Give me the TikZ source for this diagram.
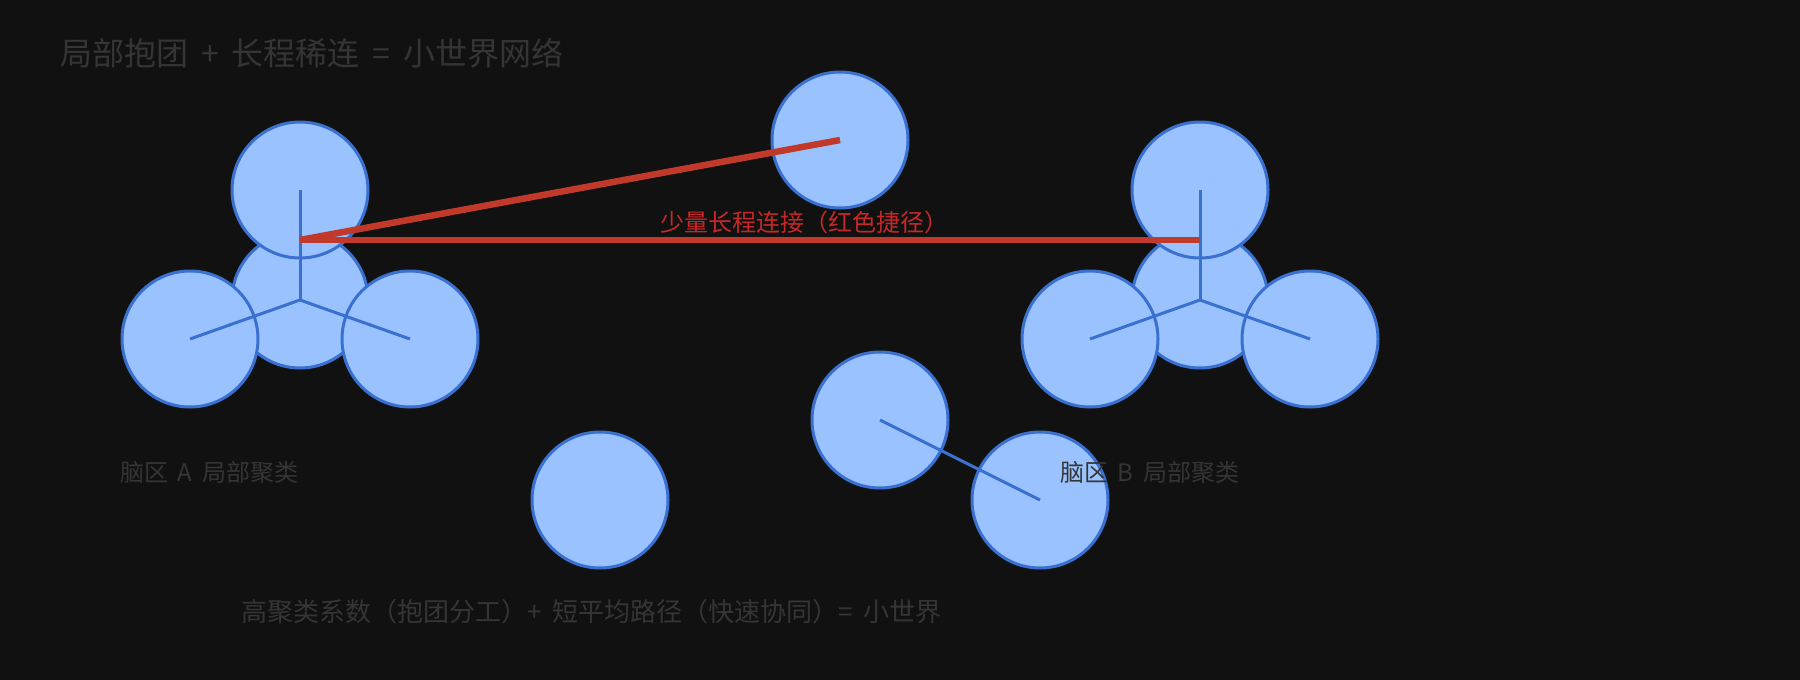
\documentclass[tikz,border=0pt]{standalone}
\usepackage{fontspec}
\newfontfamily\cjk[WordSpace=1.8]{Noto Sans CJK SC}
\definecolor{bgdark}{HTML}{111111}
\definecolor{nodefill}{HTML}{99C2FF}
\definecolor{nodeedge}{HTML}{3A70D0}
\definecolor{linkred}{HTML}{C0392B}
\definecolor{labelred}{HTML}{C62828}
\definecolor{textgray}{HTML}{353535}
\begin{document}
\begin{tikzpicture}[x=1pt, y=-1pt,
    neuron/.style={circle, draw=nodeedge, fill=nodefill, line width=3pt, minimum size=136pt, inner sep=0pt},
    synapse/.style={draw=nodeedge, line width=3pt},
    shortcut/.style={draw=linkred, line width=6.5pt},
    caption/.style={text=textgray, inner sep=0pt, anchor=west, font=\cjk\fontsize{24}{28}\selectfont}]
  \fill[bgdark] (0, 0) rectangle (1800, 680);
  % Header
  \node (title) [caption, font=\cjk\fontsize{32}{38}\selectfont] at (60, 53) {局部抱团 + 长程稀连 = 小世界网络};
  % Nodes
  \node (a-mid) [neuron] at (300, 300) {};
  \node (a-top) [neuron] at (300, 190) {};
  \node (a-left) [neuron] at (190, 339) {};
  \node (a-right) [neuron] at (410, 339) {};
  \node (b-mid) [neuron] at (1200, 300) {};
  \node (b-top) [neuron] at (1200, 190) {};
  \node (b-left) [neuron] at (1090, 339) {};
  \node (b-right) [neuron] at (1310, 339) {};
  \node (hub) [neuron] at (840, 140) {};
  \node (lone) [neuron] at (600, 500) {};
  \node (pair-1) [neuron] at (880, 420) {};
  \node (pair-2) [neuron] at (1040, 500) {};
  \coordinate (a-port) at (300, 240);
  \coordinate (b-port) at (1200, 240);
  % Arrow
  \draw[synapse] (a-mid.center) -- (a-top.center);
  \draw[synapse] (a-mid.center) -- (a-left.center);
  \draw[synapse] (a-mid.center) -- (a-right.center);
  \draw[synapse] (b-mid.center) -- (b-top.center);
  \draw[synapse] (b-mid.center) -- (b-left.center);
  \draw[synapse] (b-mid.center) -- (b-right.center);
  \draw[synapse] (pair-1.center) -- (pair-2.center);
  \draw[shortcut] (a-port) -- (hub.center);
  \draw[shortcut] (a-port) -- (b-port);
  % Labels
  \node (shortcut-label) [caption, text=labelred] at (660, 222) {少量长程连接（红色捷径）};
  \node (label-a) [caption] at (120, 472) {脑区 A 局部聚类};
  \node (label-b) [caption] at (1060, 472) {脑区 B 局部聚类};
  \node (summary) [caption, font=\cjk\fontsize{26}{30}\selectfont] at (241, 612) {高聚类系数（抱团分工）+ 短平均路径（快速协同）= 小世界};
\end{tikzpicture}
\end{document}
